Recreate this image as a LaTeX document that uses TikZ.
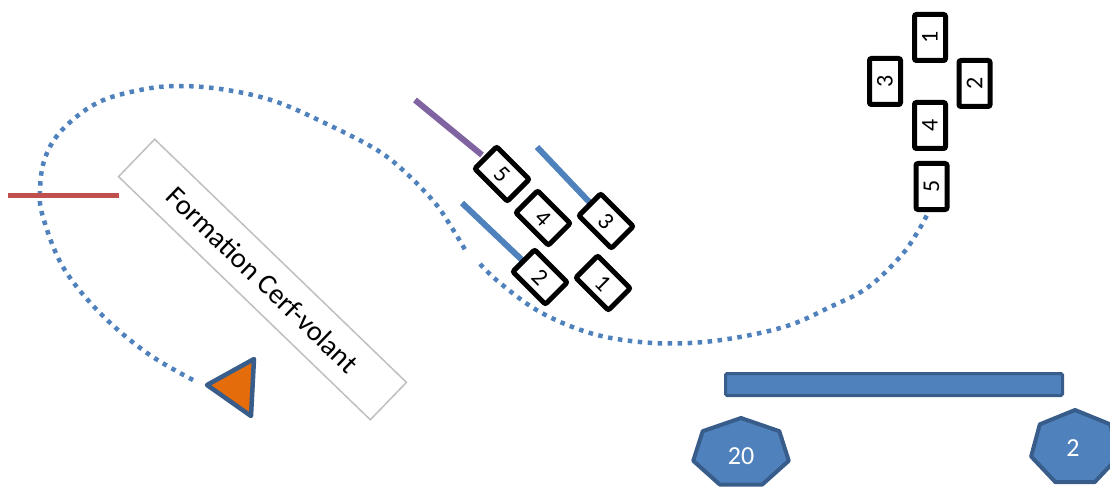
\documentclass[tikz,border=0pt]{standalone}
\usepackage{fontspec}
\setmainfont{Carlito}
\usetikzlibrary{calc}
\definecolor{accblue}{RGB}{79,129,189}
\definecolor{darkblue}{RGB}{56,93,138}
\definecolor{accred}{RGB}{192,80,77}
\definecolor{accpurple}{RGB}{128,100,162}
\definecolor{accorange}{RGB}{228,108,10}
\definecolor{boxgray}{RGB}{191,191,191}
\tikzset{
  playerbox/.style={draw=black, fill=white, line width=5pt, rounded corners=2pt,
    minimum width=46pt, minimum height=31pt, inner sep=0pt, font=\fontsize{24}{24}\selectfont},
  pathdots/.style={draw=accblue, line width=4.5pt, dash pattern=on 4.5pt off 5.5pt},
  bar/.style={line width=6pt, line cap=butt},
  heptagon/.style={fill=accblue, draw=darkblue, line width=4pt, line join=round},
  heptext/.style={text=white, font=\fontsize{26}{26}\selectfont, inner sep=0pt}
}
\begin{document}
\begin{tikzpicture}[x=1pt,y=-1pt]
\useasboundingbox (0,0) rectangle (1110,489);

% dotted path
\draw[pathdots] plot[smooth, tension=0.6] coordinates {
  (193,380) (147,353) (100,313) (63,267) (43,217) (40,190) (45,158) (62,130) (97,103)
  (140,90) (180,86) (227,90) (277,102) (333,127) (377,150) (405,172) (435,203) (452,228) (467,253)};
\draw[pathdots] plot[smooth, tension=0.6] coordinates {
  (480,264) (500,283) (540,312) (590,333) (640,342) (690,343) (740,337) (790,325)
  (830,307) (867,288) (900,257) (917,233) (927,215)};

% red line
\coordinate (r1) at (8,195); \coordinate (r2) at (119,195);
\draw[accred, line width=5pt] (r1) -- (r2);

% rotated label box
\node[draw=boxgray, line width=1.5pt, fill=white, rotate=-44, minimum width=350pt,
  minimum height=52pt, font=\fontsize{28.5}{28.5}\selectfont] (label) at (262.5,279.5) {Formation Cerf-volant};

% triangle
\coordinate (t1) at (207,385); \coordinate (t2) at (254,359); \coordinate (t3) at (251,416);
\draw[fill=accorange, draw=darkblue, line width=4.5pt, line join=round] (t1) -- (t2) -- (t3) -- cycle;

% lines in the middle group
\coordinate (p1) at (415,100); \coordinate (p2) at (482,155);
\draw[accpurple, bar] (p1) -- (p2);
\coordinate (b1) at (537,147); \coordinate (b2) at (594,207);
\draw[accblue, bar] (b1) -- (b2);
\coordinate (c1) at (462,203); \coordinate (c2) at (522,260);
\draw[accblue, bar] (c1) -- (c2);

% middle group boxes
\node[playerbox, rotate=-45] (m5) at (502,174) {5};
\node[playerbox, rotate=-45] (m4) at (543,218) {4};
\node[playerbox, rotate=-45] (m3) at (606,221) {3};
\node[playerbox, rotate=-45] (m2) at (540,277) {2};
\node[playerbox, rotate=-45] (m1) at (603,283) {1};

% right group boxes
\node[playerbox, rotate=90] (r1b) at (930,37.5) {1};
\node[playerbox, rotate=90] (r3b) at (885,81.5) {3};
\node[playerbox, rotate=90] (r2b) at (974.5,83.5) {2};
\node[playerbox, rotate=90] (r4b) at (930,125.5) {4};
\node[playerbox, rotate=90] (r5b) at (931.5,186.5) {5};

% blue bar
\coordinate (bar1) at (725.5,373.5); \coordinate (bar2) at (1062.5,395.5);
\draw[fill=accblue, draw=darkblue, line width=3pt, rounded corners=1.5pt] (bar1) rectangle (bar2);

% heptagons
\coordinate (h20) at (741,453);
\draw[heptagon] ($(h20)+({49*cos(90)},{-35*sin(90)})$)
  \foreach \k in {1,...,6} { -- ($(h20)+({49*cos(90+\k*360/7)},{-35*sin(90+\k*360/7)})$) } -- cycle;
\node[heptext] (n20) at (741,456) {20};

\coordinate (h2) at (1075,448);
\draw[heptagon] ($(h2)+({45*cos(90)},{-38*sin(90)})$)
  \foreach \k in {1,...,6} { -- ($(h2)+({45*cos(90+\k*360/7)},{-38*sin(90+\k*360/7)})$) } -- cycle;
\node[heptext] (n2) at (1073,448) {2};
\end{tikzpicture}
\end{document}
